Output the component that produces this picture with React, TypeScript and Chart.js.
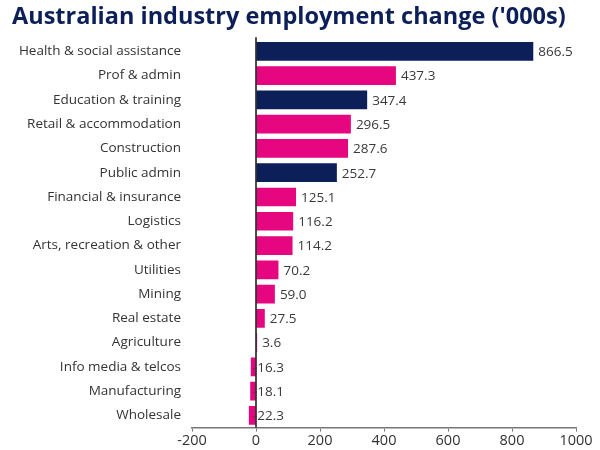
import React, { useEffect, useRef } from "react";
import { Chart, registerables } from "chart.js";

Chart.register(...registerables);

const categories = [
  "Health & social assistance",
  "Prof & admin",
  "Education & training",
  "Retail & accommodation",
  "Construction",
  "Public admin",
  "Financial & insurance",
  "Logistics",
  "Arts, recreation & other",
  "Utilities",
  "Mining",
  "Real estate",
  "Agriculture",
  "Info media & telcos",
  "Manufacturing",
  "Wholesale",
];

const values = [866.5, 437.3, 347.4, 296.5, 287.6, 252.7, 125.1, 116.2, 114.2, 70.2, 59.0, 27.5, 3.6, -16.3, -18.1, -22.3];

const publicSector = [true, false, true, false, false, true, false, false, false, false, false, false, false, false, false, false];

const xTicks = [-200, 0, 200, 400, 600, 800, 1000];

const NAVY = "#0c1f58";
const PINK = "#e6067f";
const FONT = "'Open Sans', 'Noto Sans', sans-serif";

const labelPlugin = {
  id: "valueLabels",
  afterDatasetsDraw(chart: any) {
    const ctx = chart.ctx;
    const xs = chart.scales.x;
    const area = chart.chartArea;
    const zx = xs.getPixelForValue(0);
    ctx.save();
    ctx.strokeStyle = "#111111";
    ctx.lineWidth = 1.5;
    ctx.beginPath();
    ctx.moveTo(zx, area.top - 2);
    ctx.lineTo(zx, area.bottom);
    ctx.stroke();
    const meta = chart.getDatasetMeta(0);
    ctx.font = "13.5px " + FONT;
    ctx.fillStyle = "#3a3a3a";
    ctx.textBaseline = "middle";
    ctx.textAlign = "left";
    meta.data.forEach((bar: any, i: number) => {
      const v = values[i];
      const x = v >= 0 ? bar.x + 5 : zx - 3;
      const txt = v < 0 ? "-" + Math.abs(v).toFixed(1) : v.toFixed(1);
      ctx.fillText(txt, x, bar.y + 1);
    });
    ctx.restore();
  },
};

export default function App() {
  const ref = useRef<HTMLCanvasElement | null>(null);
  useEffect(() => {
    if (!ref.current) return;
    const chart = new Chart(ref.current, {
      type: "bar",
      data: {
        labels: categories,
        datasets: [
          {
            data: values,
            backgroundColor: values.map((_, i) => (publicSector[i] ? NAVY : PINK)),
            barPercentage: 0.77,
            categoryPercentage: 1,
          },
        ],
      },
      options: {
        indexAxis: "y",
        animation: false,
        responsive: true,
        maintainAspectRatio: false,
        layout: { padding: { left: 12, right: 24, top: 0, bottom: -1 } },
        plugins: {
          legend: { display: false },
          tooltip: { enabled: false },
          title: {
            display: true,
            text: "Australian industry employment change ('000s)",
            align: "start",
            color: NAVY,
            font: { family: FONT, size: 23.5, weight: "bold" },
            padding: { top: 3, bottom: 8 },
          },
        },
        scales: {
          x: {
            type: "linear",
            min: -200,
            max: 1000,
            afterBuildTicks(scale: any) {
              scale.ticks = xTicks.map((v) => ({ value: v }));
            },
            grid: { drawOnChartArea: false, drawTicks: true, tickLength: 4, color: "#777777" },
            border: { display: true, color: "#777777", width: 1.5 },
            ticks: {
              color: "#333333",
              font: { family: FONT, size: 14.5 },
              padding: 1,
              callback: (v: any) => String(v),
            },
          },
          y: {
            grid: { display: false, drawTicks: false },
            border: { display: false },
            afterFit(scale: any) {
              scale.width = 180;
            },
            ticks: { color: "#333333", font: { family: FONT, size: 13.5 }, padding: 11 },
          },
        },
      },
      plugins: [labelPlugin],
    });
    return () => chart.destroy();
  }, []);
  return (
    <div style={{ position: "fixed", left: 0, top: 0, width: 600, height: 450, background: "#fff" }}>
      <canvas ref={ref} />
    </div>
  );
}
